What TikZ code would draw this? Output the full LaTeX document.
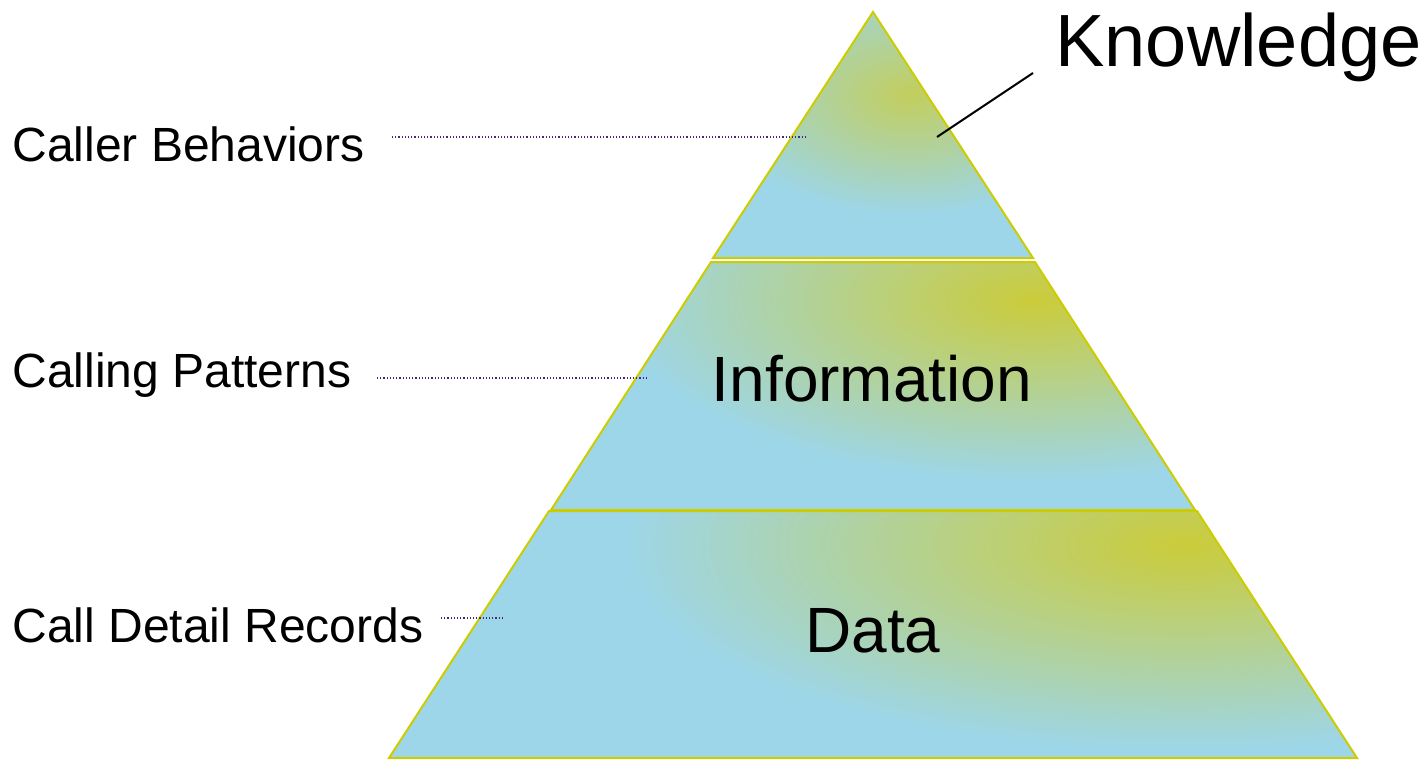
\documentclass[tikz,border=0pt]{standalone}
\usepackage{fontspec}
\setmainfont{Liberation Sans}
\begin{document}
\begin{tikzpicture}[
        x=0.5pt, y=-0.5pt,
        layer/.style={draw=rimyellow, line width=1pt, line join=miter},
        side_label/.style={anchor=base west, inner sep=0pt, font=\fontsize{24}{28}\selectfont},
        level_label/.style={anchor=base, inner sep=0pt, font=\fontsize{32}{38}\selectfont},
        leader/.style={draw=leaderpurple, line width=0.6pt, densely dotted},
        pointer/.style={draw=black, line width=1pt}
    ]

        \definecolor{skyblue}{RGB}{157, 214, 232}
        \definecolor{hotyellow}{RGB}{203, 204, 58}
        \definecolor{rimyellow}{RGB}{204, 204, 0}
        \definecolor{leaderpurple}{RGB}{75, 40, 120}

        \useasboundingbox (0,0) rectangle (1426,760);

        % top layer
        \fill[skyblue] (873,12) -- (1033,258) -- (713,258) -- cycle;
        \begin{scope}
            \clip (873,12) -- (1033,258) -- (713,258) -- cycle;
            \shade[inner color=hotyellow!80!skyblue, outer color=skyblue] (910,95) ellipse (200 and 120);
        \end{scope}
        \draw[layer] (873,12) -- (1033,258) -- (713,258) -- cycle;

        % middle layer
        \fill[skyblue] (711,262) -- (1035,262) -- (1195,510) -- (551,510) -- cycle;
        \begin{scope}
            \clip (711,262) -- (1035,262) -- (1195,510) -- (551,510) -- cycle;
            \shade[inner color=hotyellow, outer color=skyblue] (1035,300) ellipse (420 and 180);
        \end{scope}
        \draw[layer] (711,262) -- (1035,262) -- (1195,510) -- (551,510) -- cycle;

        % bottom layer
        \fill[skyblue] (549,511) -- (1197,511) -- (1357,758) -- (389,758) -- cycle;
        \begin{scope}
            \clip (549,511) -- (1197,511) -- (1357,758) -- (389,758) -- cycle;
            \shade[inner color=hotyellow, outer color=skyblue] (1185,545) ellipse (560 and 205);
        \end{scope}
        \draw[layer] (549,511) -- (1197,511) -- (1357,758) -- (389,758) -- cycle;

        \node[level_label] (info) at (872,401) {Information};
        \node[level_label] (data) at (873,652) {Data};
        \node[anchor=base west, inner sep=0pt, font=\fontsize{37}{44}\selectfont] (kn) at (1055,67) {Knowledge};

        \node[side_label] (behav) at (12,161) {Caller Behaviors};
        \node[side_label] (patt) at (12,387) {Calling Patterns};
        \node[side_label] (cdr) at (12,642) {Call Detail Records};

        \coordinate (behav-a) at (392,137);
        \coordinate (behav-b) at (806,137);
        \coordinate (patt-a) at (377,378);
        \coordinate (patt-b) at (646,378);
        \coordinate (cdr-a) at (441,618);
        \coordinate (cdr-b) at (502,618);
        \coordinate (kn-a) at (1033,73);
        \coordinate (kn-b) at (937,137);

        \draw[leader] (behav-a) -- (behav-b);
        \draw[leader] (patt-a) -- (patt-b);
        \draw[leader] (cdr-a) -- (cdr-b);
        \draw[pointer] (kn-a) -- (kn-b);
    \end{tikzpicture}
\end{document}
